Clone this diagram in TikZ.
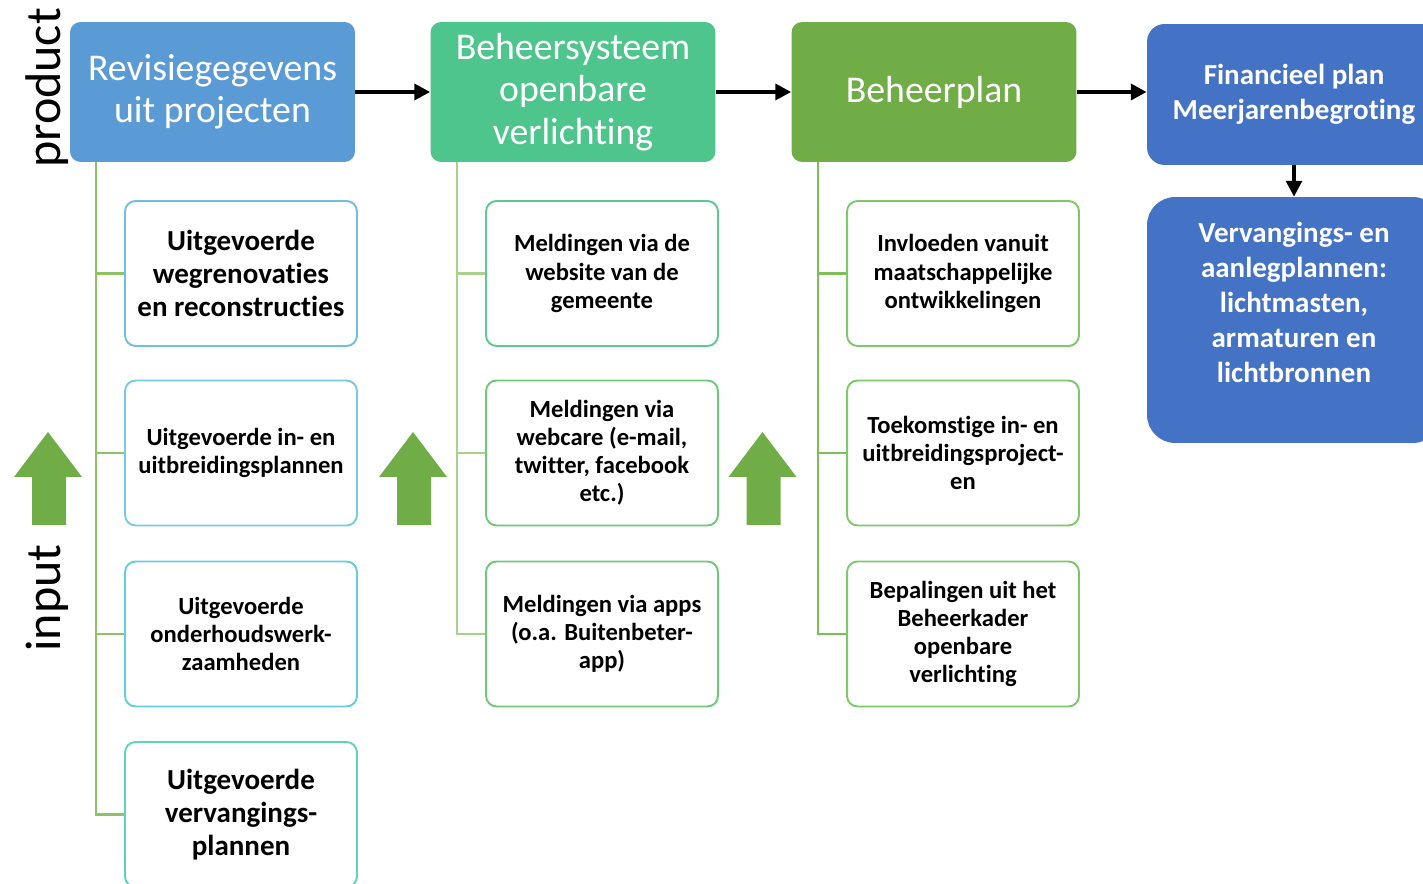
\documentclass[tikz,border=0pt]{standalone}
\usepackage{fontspec}
\setmainfont{Carlito}[Ligatures=NoCommon]
\usetikzlibrary{arrows.meta}
\definecolor{hdrblue}{RGB}{91, 155, 213}
\definecolor{hdrteal}{RGB}{78, 197, 140}
\definecolor{hdrgreen}{RGB}{112, 173, 71}
\definecolor{finblue}{RGB}{68, 114, 196}
\definecolor{lineA}{RGB}{112, 190, 225}
\definecolor{lineB}{RGB}{120, 200, 230}
\definecolor{lineC}{RGB}{100, 205, 220}
\definecolor{lineD}{RGB}{95, 210, 190}
\definecolor{lineE}{RGB}{95, 200, 145}
\definecolor{lineF}{RGB}{110, 200, 120}
\definecolor{lineG}{RGB}{125, 200, 105}
\definecolor{treeA}{RGB}{140, 196, 100}
\definecolor{treeB}{RGB}{168, 210, 140}
\definecolor{treeC}{RGB}{125, 190, 90}

\begin{document}
\begin{tikzpicture}[x=0.02cm, y=-0.02cm,
    header/.style={rounded corners=6pt, minimum width=5.7cm, minimum height=2.8cm,
                   text=white, align=center, font=\fontsize{21.5}{24}\selectfont},
    finbox/.style={fill=finblue, rounded corners=10pt, minimum width=5.88cm,
                   text=white, align=center, font=\fontsize{16.5}{20}\selectfont\bfseries},
    inbox/.style={fill=white, line width=1.1pt, rounded corners=6pt, minimum width=4.64cm,
                  minimum height=2.9cm, align=center, font=\fontsize{14}{16}\selectfont\bfseries},
    bigbox/.style={inbox, font=\fontsize{16.5}{18.7}\selectfont\bfseries},
    flow/.style={line width=2.2pt, -{Triangle[length=9pt, width=9pt]}},
    tree/.style={line width=1.3pt},
    upfill/.style={fill=hdrgreen}]
    \clip (0,0) rectangle (1423,884);

    % side labels
    \node[rotate=90, font=\fontsize{28.5}{32}\selectfont] (product) at (47,88) {product};
    \node[rotate=90, font=\fontsize{28.5}{32}\selectfont] (input)   at (47,598) {input};

    % product row
    \node[header, fill=hdrblue]  (revisie) at (212.5,92) {Revisiegegevens\\uit projecten};
    \node[header, fill=hdrteal]  (systeem) at (573,92)   {Beheersysteem\\openbare\\verlichting};
    \node[header, fill=hdrgreen] (plan)    at (934,92)   {Beheerplan};
    \node[finbox, minimum height=2.82cm]  (fin)     at (1294,94.5) {Financieel plan\\Meerjarenbegroting};
    \node[finbox, minimum height=4.92cm, rounded corners=16pt] (vervang) at (1294,320)
        {Vervangings- en\\aanlegplannen:\\lichtmasten,\\armaturen en\\lichtbronnen\\\mbox{}};

    \draw[flow] (revisie.east) -- (systeem.west);
    \draw[flow] (systeem.east) -- (plan.west);
    \draw[flow] (plan.east)    -- (plan.east -| fin.west);
    \draw[flow, line width=1.8pt] (fin.south) -- (vervang.north);

    % input column 1
    \node[bigbox, draw=lineA] (wegrenov) at (241,273.5) {Uitgevoerde\\wegrenovaties\\en reconstructies};
    \node[inbox,  draw=lineB] (uitbreid) at (241,453)   {Uitgevoerde in- en\\uitbreidingsplannen};
    \node[inbox,  draw=lineC] (onderh)   at (241,634)   {Uitgevoerde\\onderhoudswerk-\\zaamheden};
    \node[bigbox, draw=lineD] (vervangp) at (241,814.5) {Uitgevoerde\\vervangings-\\plannen};
    \foreach \n in {wegrenov, uitbreid, onderh, vervangp}
        \draw[tree, treeA] ([xshift=0.52cm]revisie.south west) |- (\n.west);

    % input column 2
    \node[inbox, draw=lineE] (website) at (602,273.5) {Meldingen via de\\website van de\\gemeente};
    \node[inbox, draw=lineF] (webcare) at (602,453)   {Meldingen via\\webcare (e-mail,\\twitter, facebook\\etc.)};
    \node[inbox, draw=lineF] (apps)    at (602,634)   {Meldingen via apps\\(o.a. Buitenbeter-\\app)};
    \foreach \n in {website, webcare, apps}
        \draw[tree, treeB] ([xshift=0.54cm]systeem.south west) |- (\n.west);

    % input column 3
    \node[inbox, draw=lineG] (invloed)  at (963,273.5) {Invloeden vanuit\\maatschappelijke\\ontwikkelingen};
    \node[inbox, draw=lineG] (toekomst) at (963,453)   {Toekomstige in- en\\uitbreidingsproject-\\en};
    \node[inbox, draw=lineG] (kader)    at (963,634)   {Bepalingen uit het\\Beheerkader\\openbare\\verlichting};
    \foreach \n in {invloed, toekomst, kader}
        \draw[tree, treeC] ([xshift=0.54cm]plan.south west) |- (\n.west);

    % up arrows
    \fill[upfill]                    (14,477) -- (48,432) -- (82,477) -- (66,477) -- (66,525) -- (32,525) -- (32,477) -- cycle;
    \fill[upfill, shift={(365,0)}]   (14,477) -- (48,432) -- (82,477) -- (66,477) -- (66,525) -- (32,525) -- (32,477) -- cycle;
    \fill[upfill, shift={(714.5,0)}] (14,477) -- (48,432) -- (82,477) -- (66,477) -- (66,525) -- (32,525) -- (32,477) -- cycle;
\end{tikzpicture}
\end{document}
